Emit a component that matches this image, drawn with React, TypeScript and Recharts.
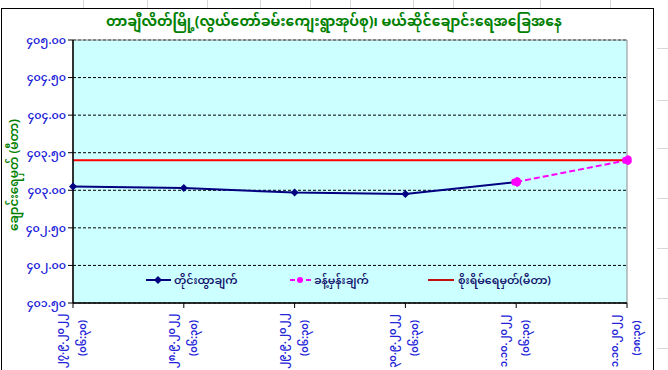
import { CartesianGrid, Line, LineChart, ReferenceArea, XAxis, YAxis } from "recharts";

const dates = ["၂၇.၉.၂၀၂၂", "၂၈.၉.၂၀၂၂", "၂၉.၉.၂၀၂၂", "၃၀.၉.၂၀၂၂", "၁.၁၀.၂၀၂၂", "၁.၁၀.၂၀၂၂"];
const times = ["(၀၆:၃၀)", "(၀၆:၃၀)", "(၀၆:၃၀)", "(၀၆:၃၀)", "(၀၆:၃၀)", "(၁၈:၃၀)"];
const measured = [403.05, 403.03, 402.97, 402.95, 403.11, null];
const forecast = [null, null, null, null, 403.11, 403.4];
const warning = [403.4, 403.4, 403.4, 403.4, 403.4, 403.4];
const yTicks = [401.5, 402, 402.5, 403, 403.5, 404, 404.5, 405];

const seriesNames = ["တိုင်းထွာချက်", "ခန့်မှန်းချက်", "စိုးရိမ်ရေမှတ်(မီတာ)"];
const title = "တာချီလိတ်မြို့(လွယ်တော်ခမ်းကျေးရွာအုပ်စု)၊ မယ်ဆိုင်ချောင်းရေအခြေအနေ";
const yTitle = "ချောင်းရေမှတ် (မီတာ)";

const data = dates.map((d, i) => ({
  key: d + "|" + times[i],
  measured: measured[i],
  forecast: forecast[i],
  warning: warning[i],
}));

const FONT = '"Noto Sans Myanmar", Padauk, "Myanmar Text", "Noto Sans", sans-serif';
const BLUE = "#2323d8";
const NAVY = "#000080";
const PINK = "#ff00ff";
const RED = "#ff0000";
const GREEN = "#008000";

const toMm = (s: string) => s.replace(/[0-9]/g, (d) => String.fromCharCode(0x1040 + Number(d)));

function Diamond(props: any) {
  const { cx, cy, index } = props;
  if (cx == null || cy == null) return <g key={index} />;
  return <path key={index} d={`M${cx},${cy - 4}L${cx + 4},${cy}L${cx},${cy + 4}L${cx - 4},${cy}Z`} fill={NAVY} />;
}

function XTick(props: any) {
  const { x, y, payload } = props;
  const [d, t] = String(payload.value).split("|");
  return (
    <g transform={`translate(${x},${y})`}>
      <text transform="rotate(-90)" textAnchor="middle" fill={BLUE} fontSize={10} fontWeight={600} fontFamily={FONT}>
        <tspan x={-31} y={-9}>{d}</tspan>
        <tspan x={-28} y={13}>{t}</tspan>
      </text>
    </g>
  );
}

function LegendBox() {
  return (
    <svg width={668} height={28} style={{ position: "absolute", left: 0, top: 266, overflow: "visible" }}>
      <line x1={146} x2={171} y1={14} y2={14} stroke={NAVY} strokeWidth={2} />
      <path d="M158,10L162,14L158,18L154,14Z" fill={NAVY} />
      <text x={174} y={18} fill="#10106a" fontSize={11} fontWeight={600} fontFamily={FONT}>{seriesNames[0]}</text>
      <line x1={290} x2={311} y1={14} y2={14} stroke={PINK} strokeWidth={2} strokeDasharray="5 3" />
      <circle cx={300} cy={14} r={3} fill={PINK} />
      <text x={314} y={18} fill="#10106a" fontSize={11} fontWeight={600} fontFamily={FONT}>{seriesNames[1]}</text>
      <line x1={428} x2={454} y1={14} y2={14} stroke="#c01010" strokeWidth={2} />
      <text x={458} y={18} fill="#10106a" fontSize={11} fontWeight={600} fontFamily={FONT}>{seriesNames[2]}</text>
    </svg>
  );
}

export default function App() {
  return (
    <div style={{ position: "absolute", left: 0, top: 0, width: 668, height: 370, background: "#fff", overflow: "hidden" }}>
      {[83, 147, 207, 260, 310, 350, 413, 453, 540, 610].map((x) => (
        <div key={x} style={{ position: "absolute", left: x, top: 0, width: 1, height: 8, background: "#d8d8d8" }} />
      ))}
      {[48, 100, 148, 198, 248, 298, 348].map((y) => (
        <div key={y} style={{ position: "absolute", left: 657, top: y, width: 11, height: 1, background: "#d8d8d8" }} />
      ))}
      <div style={{ position: "absolute", left: 1, top: 8, width: 653, height: 370, border: "1.5px solid #000", boxSizing: "border-box" }} />
      <div
        style={{
          position: "absolute",
          left: 0,
          top: 7,
          width: 668,
          textAlign: "center",
          color: GREEN,
          fontWeight: 700,
          fontSize: 14,
          fontFamily: FONT,
        }}
      >
        {title}
      </div>
      <div style={{ position: "absolute", left: 0, top: 0 }}>
        <LineChart width={668} height={370} data={data} margin={{ top: 40, right: 41, bottom: 7, left: 13 }}>
          <CartesianGrid fill="#ccffff" vertical={false} stroke="#000" strokeDasharray="3 2" />
          <ReferenceArea y1={401.5} y2={405} fill="none" stroke="#8c8c8c" ifOverflow="visible" />
          <XAxis
            dataKey="key"
            height={60}
            interval={0}
            axisLine={{ stroke: "#000", strokeWidth: 1.5 }}
            tickLine={{ stroke: "#000" }}
            tickSize={5}
            tick={<XTick />}
          />
          <YAxis
            width={60}
            domain={[401.5, 405]}
            ticks={yTicks}
            interval={0}
            axisLine={{ stroke: "#000", strokeWidth: 1.5 }}
            tickLine={{ stroke: "#000" }}
            tickSize={5}
            tick={{ fill: BLUE, fontSize: 11, fontWeight: 600, fontFamily: FONT }}
            tickFormatter={(v: number) => toMm(v.toFixed(2))}
            label={{
              content: () => (
                <text x={15} y={175} transform="rotate(-90,15,175)" textAnchor="middle" fill={GREEN} fontSize={12} fontWeight={600} fontFamily={FONT} dominantBaseline="central">
                  {yTitle}
                </text>
              ),
            }}
          />
          <Line dataKey="warning" stroke={RED} strokeWidth={2} dot={false} isAnimationActive={false} />
          <Line dataKey="measured" stroke={NAVY} strokeWidth={2} dot={<Diamond />} isAnimationActive={false} connectNulls={false} />
          <Line
            dataKey="forecast"
            stroke={PINK}
            strokeWidth={2}
            strokeDasharray="6 3"
            dot={{ r: 4, fill: PINK, stroke: PINK }}
            isAnimationActive={false}
          />
        </LineChart>
      </div>
      <LegendBox />
    </div>
  );
}
